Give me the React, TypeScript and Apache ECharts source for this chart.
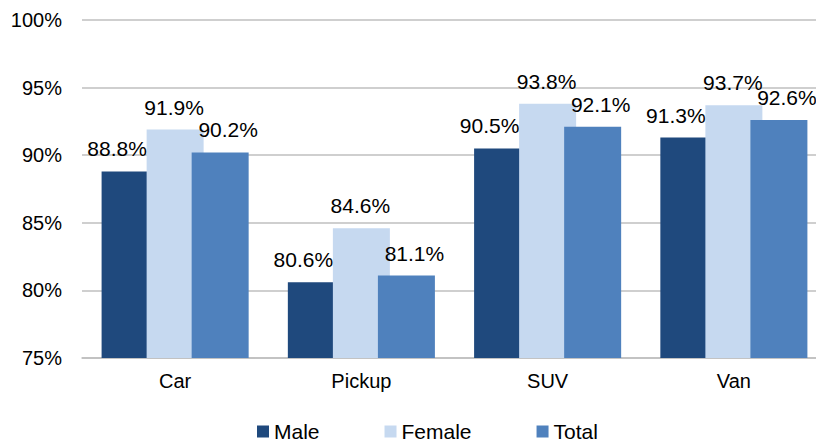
import React, { useEffect, useRef } from "react";
import * as echarts from "echarts";

const categories = ["Car", "Pickup", "SUV", "Van"];
const male = [88.8, 80.6, 90.5, 91.3];
const female = [91.9, 84.6, 93.8, 93.7];
const total = [90.2, 81.1, 92.1, 92.6];
const yTicks = { min: 75, max: 100, interval: 5 };

export default function App() {
  const ref = useRef<HTMLDivElement>(null);
  useEffect(() => {
    if (!ref.current) return;
    const chart = echarts.init(ref.current, null, { renderer: "svg" });
    const font = "Liberation Sans, Arial, sans-serif";
    const lbl = (dx: number) => ({
      show: true,
      position: "top" as const,
      distance: 12,
      offset: [dx, 0],
      formatter: (p: any) => p.value.toFixed(1) + "%",
      color: "#000",
      fontSize: 21,
      fontFamily: font,
    });
    chart.setOption({
      animation: false,
      textStyle: { fontFamily: font },
      grid: { left: 82, width: 745, top: 20, bottom: 84, containLabel: false, outerBoundsMode: "none" },
      legend: {
        left: 252,
        top: 416,
        itemWidth: 12,
        itemHeight: 12,
        itemGap: 65,
        icon: "rect",
        textStyle: { fontSize: 21, color: "#000", fontFamily: font },
        data: ["Male", "Female", "Total"],
      },
      xAxis: {
        type: "category",
        data: categories,
        axisLine: { lineStyle: { color: "#BFBFBF", width: 1.5 } },
        axisTick: { show: false },
        axisLabel: { fontSize: 20, color: "#000", margin: 13, fontFamily: font },
      },
      yAxis: {
        type: "value",
        min: yTicks.min,
        max: yTicks.max,
        interval: yTicks.interval,
        axisLine: { show: false },
        axisTick: { show: false },
        splitLine: { lineStyle: { color: "#BFBFBF", width: 1.5 } },
        axisLabel: { formatter: "{value}%", fontSize: 20, color: "#000", margin: 20, fontFamily: font },
      },
      series: [
        { name: "Male", type: "bar", data: male, barWidth: 57, barGap: "-21%", itemStyle: { color: "#1F497D" }, label: lbl(-13) },
        { name: "Female", type: "bar", data: female, barWidth: 57, barGap: "-21%", itemStyle: { color: "#C6D9F0" }, label: lbl(-1) },
        { name: "Total", type: "bar", data: total, barWidth: 57, barGap: "-21%", itemStyle: { color: "#4F81BD" }, label: lbl(8) },
      ],
    });
    return () => chart.dispose();
  }, []);
  return (
    <div
      ref={ref}
      style={{ position: "fixed", left: 0, top: 0, width: 816, height: 442, background: "#fff" }}
    />
  );
}
